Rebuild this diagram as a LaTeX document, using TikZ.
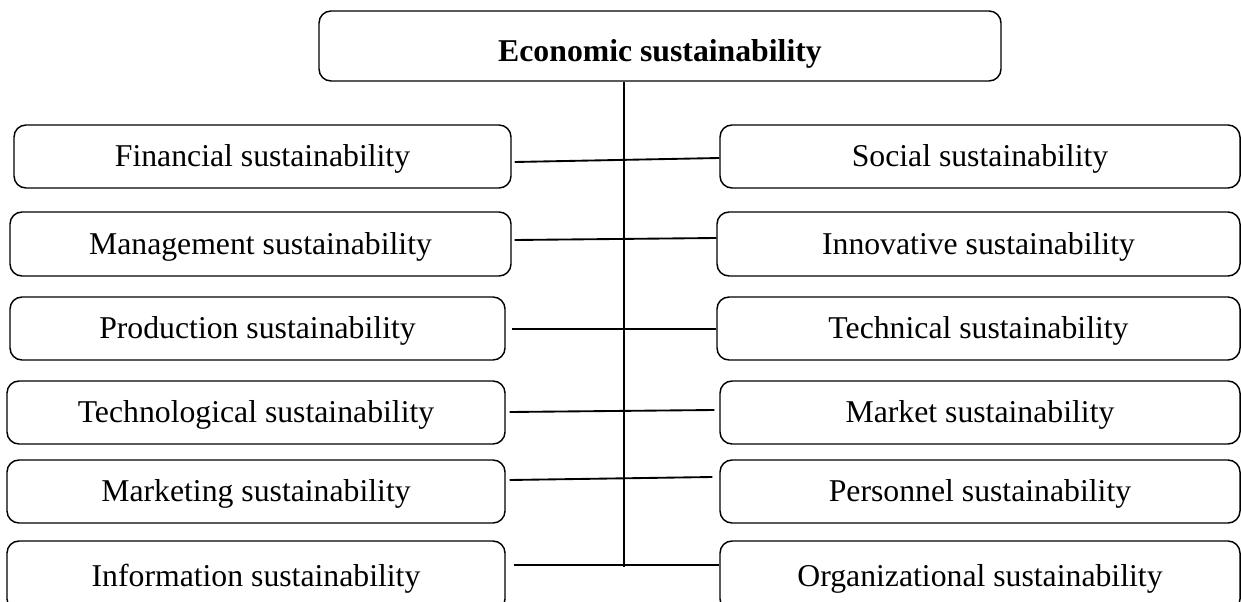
\documentclass[tikz,border=0pt]{standalone}
\usepackage{fontspec}
\setmainfont{Liberation Serif}
\usetikzlibrary{calc}

\tikzset{
  sbox/.style={draw=black, line width=1.1pt, rounded corners=9pt,
    inner sep=0pt, text height=15pt, text depth=0pt,
    font=\fontsize{23.8}{28}\selectfont, align=center},
  link/.style={draw=black, line width=1.4pt},
  trunk/.style={draw=black, line width=1.1pt}
}

\begin{document}
\begin{tikzpicture}[x=0.75pt, y=-0.75pt]
  \useasboundingbox (0,0) rectangle (1241,602);
  \clip (0,0) rectangle (1241,602);

  % root
  \node[sbox, minimum width=682*0.75pt, minimum height=70*0.75pt,
        text height=24pt,
        font=\fontsize{23.8}{28}\selectfont\bfseries] (top) at (660,46)
        {Economic sustainability};

  % left column
  \node[sbox, minimum width=497*0.75pt, minimum height=63*0.75pt] (L1) at (262.5,156.5) {Financial sustainability};
  \node[sbox, minimum width=501*0.75pt, minimum height=64*0.75pt] (L2) at (260.5,244) {Management sustainability};
  \node[sbox, minimum width=495*0.75pt, minimum height=63*0.75pt] (L3) at (257.5,328.5) {Production sustainability};
  \node[sbox, minimum width=498*0.75pt, minimum height=63*0.75pt] (L4) at (256,412.5) {Technological sustainability};
  \node[sbox, minimum width=498*0.75pt, minimum height=63*0.75pt] (L5) at (256,491.5) {Marketing sustainability};
  \node[sbox, minimum width=498*0.75pt, minimum height=70*0.75pt] (L6) at (256,576) {Information sustainability};

  % right column
  \node[sbox, minimum width=520*0.75pt, minimum height=63*0.75pt] (R1) at (980,156.5) {Social sustainability};
  \node[sbox, minimum width=523*0.75pt, minimum height=64*0.75pt] (R2) at (978.5,244) {Innovative sustainability};
  \node[sbox, minimum width=523*0.75pt, minimum height=63*0.75pt] (R3) at (978.5,328.5) {Technical sustainability};
  \node[sbox, minimum width=520*0.75pt, minimum height=63*0.75pt] (R4) at (980,412.5) {Market sustainability};
  \node[sbox, minimum width=520*0.75pt, minimum height=63*0.75pt] (R5) at (980,491.5) {Personnel sustainability};
  \node[sbox, minimum width=520*0.75pt, minimum height=70*0.75pt] (R6) at (980,576) {Organizational sustainability};

  % central trunk
  \coordinate (trunkend) at (624,567);
  \draw[trunk] (top.south -| trunkend) -- (trunkend);

  % horizontal links across the trunk
  \draw[link] ($(L1.east)+(3,5.5)$) -- ($(R1.west)+(0,1.5)$);
  \draw[link] ($(L2.east)+(3,-4)$) -- ($(R2.west)+(0,-6)$);
  \draw[link] ($(L3.east)+(6,0.5)$) -- ($(R3.west)+(0,0.5)$);
  \draw[link] ($(L4.east)+(4,-0.5)$) -- ($(R4.west)+(-5,-2.5)$);
  \draw[link] ($(L5.east)+(4,-11.5)$) -- ($(R5.west)+(-7,-14.5)$);
  \draw[link] ($(L6.east)+(8,-11)$) -- ($(R6.west)+(0,-11)$);
\end{tikzpicture}
\end{document}
